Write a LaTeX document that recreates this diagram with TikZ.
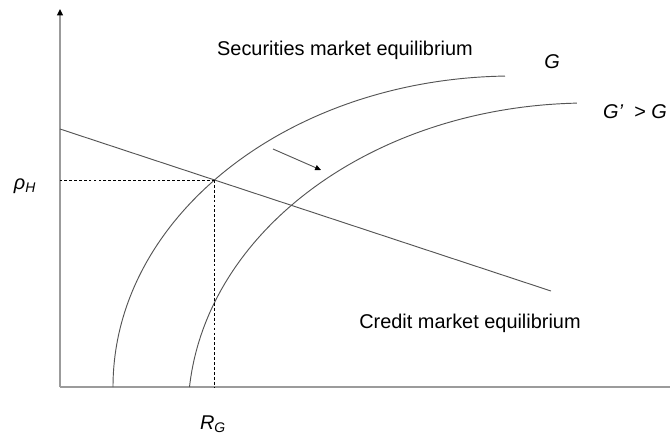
\documentclass[tikz,border=0pt]{standalone}
\usepackage{fontspec}
\setmainfont{Liberation Sans}
\usetikzlibrary{arrows.meta,intersections}
\definecolor{AxisGrey}{RGB}{155,155,155}
\definecolor{CurveGrey}{RGB}{85,85,85}

\begin{document}
\begin{tikzpicture}[x=0.03cm, y=-0.03cm, font=\fontsize{17}{20}\selectfont,
    axis/.style={AxisGrey, line width=1.4pt},
    curve/.style={CurveGrey, line width=0.8pt},
    guide/.style={black, line width=0.7pt, dash pattern=on 2.4pt off 1.8pt}]
  \useasboundingbox (0,0) rectangle (670,441);

  % Axes
  \coordinate (o) at (60,387);
  \coordinate (ytop) at (60,9);
  \coordinate (xend) at (670,387);
  \draw[axis] (o) -- (xend);
  \draw[axis, -{Triangle[length=5.5pt, width=5pt, black]}] (o) -- (ytop);

  % Securities market curves
  \coordinate (g0) at (113,387);
  \coordinate (g1) at (189.5,387);
  \draw[curve, name path=gcurve] (g0) arc[start angle=180, end angle=91.15, x radius=12cm, y radius=9.33cm];
  \draw[curve] (g1) arc[start angle=175.02, end angle=91.58, x radius=12cm, y radius=9.33cm];

  % Credit market line
  \coordinate (cl) at (60,129);
  \coordinate (cr) at (551,291);
  \draw[curve, name path=cline] (cl) -- (cr);

  % Equilibrium
  \path[name intersections={of=gcurve and cline, by=eq}];
  \draw[guide] (eq) -- (eq -| o);
  \draw[guide] (eq) -- (eq |- o);

  % Shift arrow
  \coordinate (sa) at (273,149);
  \coordinate (sb) at (321,170);
  \draw[curve, -{Triangle[length=5pt, width=4.5pt, black]}] (sa) -- (sb);

  % Labels
  \node (sec) at (345,50) {Securities market equilibrium};
  \node (credit) at (470,323) {Credit market equilibrium};
  \node (glab) at (552,62) {\textit{G}};
  \node (gplab) at (635,112) {\textit{G’}\ \ >\ \textit{G}};
  \node (rho) at (25,186) {\textit{ρ}\textsubscript{\textit{H}}};
  \node (rg) at (213,424) {\textit{R}\textsubscript{\textit{G}}};
\end{tikzpicture}
\end{document}
